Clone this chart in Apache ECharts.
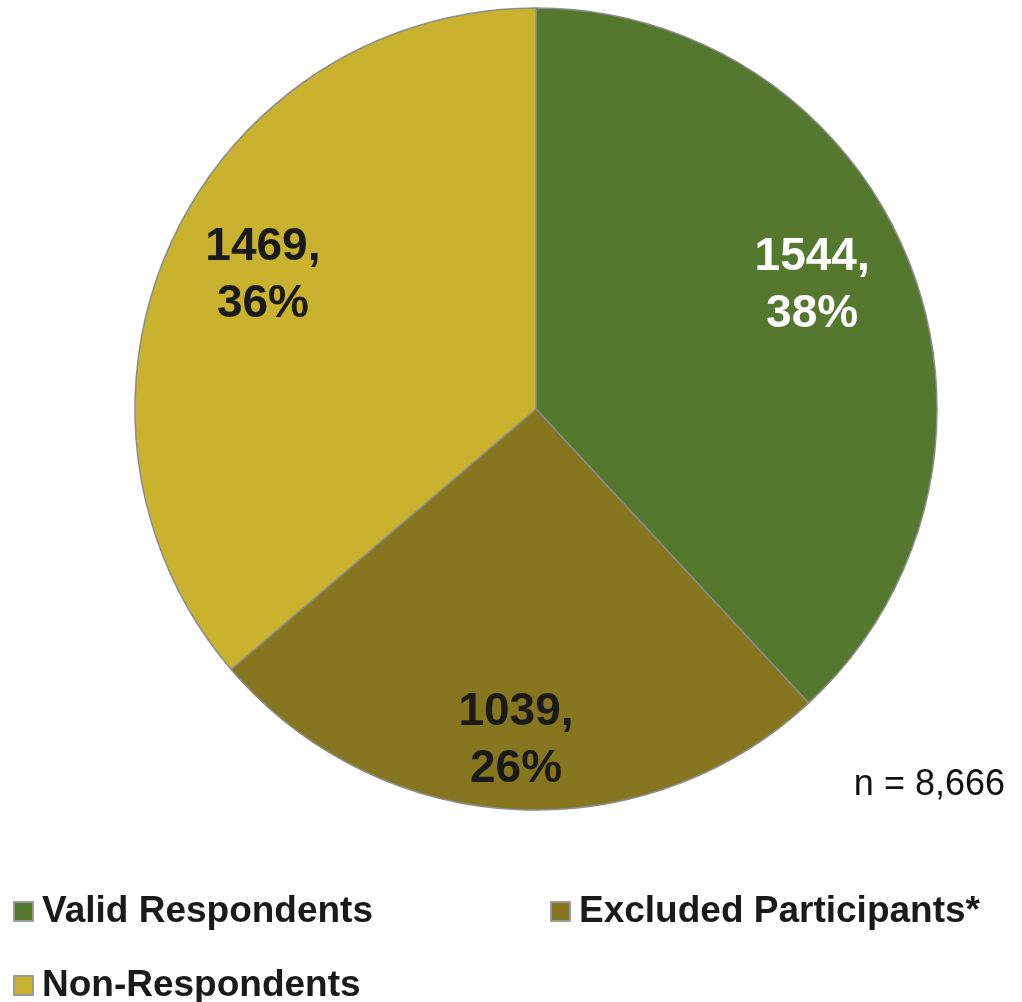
<!DOCTYPE html>
<html>
<head>
<meta charset="utf-8">
<script src="https://cdn.jsdelivr.net/npm/echarts@6/dist/echarts.min.js"></script>
<style>
  html, body { margin: 0; padding: 0; background: #fff; }
  #chart { width: 1022px; height: 1002px; }
</style>
</head>
<body>
<div id="chart"></div>
<script>
// data
const categories = ['Valid Respondents', 'Excluded Participants*', 'Non-Respondents'];
const counts = [1544, 1039, 1469];
const colors = ['#55782f', '#85761f', '#c8b22e'];
const labelColors = ['#ffffff', '#1a1a1a', '#1a1a1a'];
const totalNote = 'n = 8,666';

const font = '"Liberation Sans", Arial, sans-serif';
const edge = '#8c8c8c';
// small nudges so labels sit where the original placed them
const labelNudge = [[-12, -10], [-2, 23], [8, -4]];

const chart = echarts.init(document.getElementById('chart'));

const pieData = categories.map((name, i) => ({
  name,
  value: counts[i],
  itemStyle: { color: colors[i] },
}));

// labels sit on an invisible ring so they land ~3/4 of the radius out
const labelData = categories.map((name, i) => ({
  name,
  value: counts[i],
  label: { color: labelColors[i] },
}));

function legendAt(name, i, left, top) {
  return {
    data: [name],
    left,
    top,
    padding: 0,
    orient: 'horizontal',
    icon: 'rect',
    itemWidth: 19,
    itemHeight: 19,
    selectedMode: false,
    itemStyle: { color: colors[i], borderColor: '#9a9a9a', borderWidth: 2 },
    textStyle: { fontFamily: font, fontSize: 37, fontWeight: 'bold', color: '#1a1a1a', padding: [0, 0, 0, 4] },
  };
}

const option = {
  backgroundColor: '#fff',
  animation: false,
  legend: [
    legendAt(categories[0], 0, 13, 893),
    legendAt(categories[1], 1, 550, 893),
    legendAt(categories[2], 2, 13, 967),
  ],
  graphic: [
    {
      type: 'text',
      right: 17,
      top: 767,
      style: { text: totalNote, font: '36px ' + font, fill: '#111' },
    },
  ],
  series: [
    {
      type: 'pie',
      center: [536, 409],
      radius: [0, 401],
      startAngle: 90,
      clockwise: true,
      silent: true,
      label: { show: false },
      labelLine: { show: false },
      itemStyle: { borderColor: edge, borderWidth: 1.5 },
      data: pieData,
    },
    {
      type: 'pie',
      center: [536, 409],
      radius: [212, 401],
      startAngle: 90,
      clockwise: true,
      silent: true,
      legendHoverLink: false,
      percentPrecision: 0,
      itemStyle: { color: 'transparent', borderWidth: 0 },
      label: {
        show: true,
        position: 'inside',
        formatter: '{c},\n{d}%',
        fontFamily: font,
        fontSize: 46,
        fontWeight: 'bold',
        lineHeight: 57,
        align: 'center',
      },
      labelLine: { show: false },
      labelLayout: (p) => ({ dx: labelNudge[p.dataIndex][0], dy: labelNudge[p.dataIndex][1] }),
      data: labelData,
    },
  ],
};

chart.setOption(option);
</script>
</body>
</html>
